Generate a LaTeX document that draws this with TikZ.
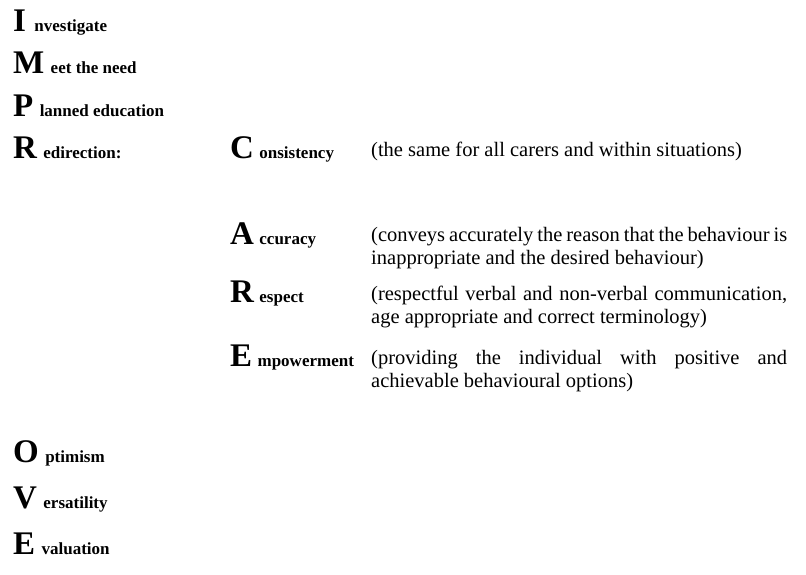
\documentclass[tikz,border=0pt]{standalone}
\usepackage{fontspec}
\setmainfont{Liberation Serif}
\usepackage{tikz}
\usetikzlibrary{positioning}

\begin{document}
\begin{tikzpicture}[x=1pt,y=-1pt,
			initial/.style={
				inner sep = 0pt,
				anchor = base west,
				font = \fontsize{33}{33}\selectfont\bfseries},
			rest/.style={
				inner sep = 0pt,
				font = \fontsize{17}{17}\selectfont\bfseries},
			note/.style={
				inner sep = 0pt,
				anchor = north west,
				text width = 416pt,
				align = justify,
				font = \fontsize{20.5}{23}\selectfont}]
			\useasboundingbox (0,0) rectangle (806,574);
			% IMPROVE
			\node at (13,31) [initial] (I) {I};
			\node [rest, right=8pt of I.base east, anchor=base west] (Iw) {nvestigate};
			\node at (13,73) [initial] (M) {M};
			\node [rest, right=6pt of M.base east, anchor=base west] (Mw) {eet the need};
			\node at (13,116) [initial] (P) {P};
			\node [rest, right=6pt of P.base east, anchor=base west] (Pw) {lanned education};
			\node at (13,158) [initial] (R) {R};
			\node [rest, right=6pt of R.base east, anchor=base west] (Rw) {edirection:};
			\node at (13,462) [initial] (O) {O};
			\node [rest, right=6pt of O.base east, anchor=base west] (Ow) {ptimism};
			\node at (13,508) [initial] (V) {V};
			\node [rest, right=6pt of V.base east, anchor=base west] (Vw) {ersatility};
			\node at (13,554) [initial] (E) {E};
			\node [rest, right=6pt of E.base east, anchor=base west] (Ew) {valuation};
			% CARE
			\node at (230,158) [initial] (C) {C};
			\node [rest, right=5pt of C.base east, anchor=base west] (Cw) {onsistency};
			\node at (371,142) [note] (Cn) {(the same for all carers and within situations)};
			\node at (230,244) [initial] (A) {A};
			\node [rest, right=5pt of A.base east, anchor=base west] (Aw) {ccuracy};
			\node at (371,227) [note] (An) {(conveys accurately the reason that the behaviour is\linebreak inappropriate and the desired behaviour)};
			\node at (230,302) [initial] (Rc) {R};
			\node [rest, right=5pt of Rc.base east, anchor=base west] (Rcw) {espect};
			\node at (371,286) [note] (Rcn) {(respectful verbal and non-verbal communication,\linebreak age appropriate and correct terminology)};
			\node at (230,366) [initial] (Ec) {E};
			\node [rest, right=5pt of Ec.base east, anchor=base west] (Ecw) {mpowerment};
			\node at (371,350) [note] (Ecn) {(providing the individual with positive and\linebreak achievable behavioural options)};
\end{tikzpicture}
\end{document}
